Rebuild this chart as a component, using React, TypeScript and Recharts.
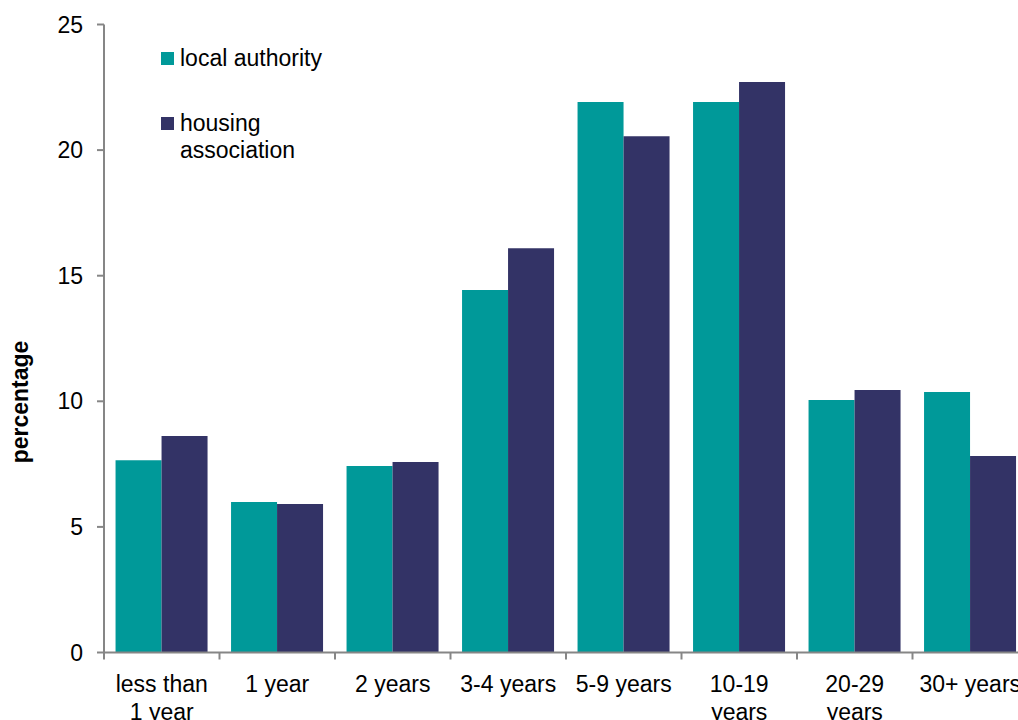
import React from 'react';
import { BarChart, Bar, XAxis, YAxis, Legend, Label } from 'recharts';

const categories = [
  'less than\n1 year',
  '1 year',
  '2 years',
  '3-4 years',
  '5-9 years',
  '10-19\nyears',
  '20-29\nyears',
  '30+ years',
];
const localAuthority = [7.65, 5.99, 7.42, 14.43, 21.91, 21.91, 10.05, 10.37];
const housingAssociation = [8.62, 5.91, 7.58, 16.09, 20.55, 22.71, 10.45, 7.82];
const yTicks = [0, 5, 10, 15, 20, 25];
const seriesNames = ['local authority', 'housing association'];
const seriesColors = ['#009999', '#333366'];

const data = categories.map((c, i) => ({
  name: c,
  la: localAuthority[i],
  ha: housingAssociation[i],
}));

const FONT = '"Liberation Sans", Arial, sans-serif';
const CHART_W = 1040;
const CHART_H = 760;
const PLOT_LEFT = 104;
const PLOT_RIGHT = 1028;
const AXIS_COLOR = '#868686';
const HALF_BAND = (PLOT_RIGHT - PLOT_LEFT) / categories.length / 2;

const XTick = (props: any) => {
  const { x, y, payload, index } = props;
  const lines = String(payload.value).split('\n');
  return (
    <g>
      <line x1={x - HALF_BAND} x2={x - HALF_BAND} y1={y} y2={y + 7} stroke={AXIS_COLOR} strokeWidth={2} />
      {index === categories.length - 1 && (
        <line x1={x + HALF_BAND} x2={x + HALF_BAND} y1={y} y2={y + 7} stroke={AXIS_COLOR} strokeWidth={2} />
      )}
      {lines.map((l, i) => (
        <text key={i} x={x} y={y + 39 + i * 28} textAnchor="middle" fontSize={23} fontFamily={FONT} fill="#000">
          {l}
        </text>
      ))}
    </g>
  );
};

const LegendContent = () => (
  <div style={{ fontFamily: FONT, fontSize: 23, lineHeight: '27px', color: '#000', textAlign: 'left' }}>
    {seriesNames.map((n, i) => (
      <div key={n} style={{ display: 'flex', alignItems: 'flex-start', marginBottom: i === 0 ? 38 : 0 }}>
        <div style={{ width: 13, height: 13, background: seriesColors[i], marginTop: 7, marginRight: 6, flex: 'none' }} />
        <div style={{ width: 150 }}>{n}</div>
      </div>
    ))}
  </div>
);

const YLabel = () => {
  const cx = 28;
  const cy = 402;
  return (
    <text
      x={cx}
      y={cy}
      transform={`rotate(-90, ${cx}, ${cy})`}
      textAnchor="middle"
      fontSize={23}
      fontWeight="bold"
      fontFamily={FONT}
      fill="#000"
    >
      percentage
    </text>
  );
};

export default function App() {
  return (
    <div style={{ position: 'fixed', left: 0, top: 0, width: 1018, height: 720, overflow: 'hidden', background: '#fff' }}>
      <BarChart
        width={CHART_W}
        height={CHART_H}
        data={data}
        margin={{ top: 24.5, right: CHART_W - PLOT_RIGHT, left: 0, bottom: 47.5 }}
        barCategoryGap="10%"
        barGap={0}
      >
        <YAxis
          width={PLOT_LEFT}
          domain={[0, 25]}
          ticks={yTicks}
          interval={0}
          axisLine={{ stroke: AXIS_COLOR, strokeWidth: 2 }}
          tickLine={{ stroke: AXIS_COLOR, strokeWidth: 2 }}
          tickSize={7}
          tickMargin={14}
          tick={{ fontSize: 23, fontFamily: FONT, fill: '#000' }}
        >
          <Label content={<YLabel />} />
        </YAxis>
        <XAxis
          dataKey="name"
          height={60}
          interval={0}
          axisLine={{ stroke: AXIS_COLOR, strokeWidth: 2 }}
          tickLine={false}
          tickSize={0}
          tickMargin={0}
          tick={<XTick />}
        />
        <Legend
          layout="horizontal"
          verticalAlign="middle"
          align="center"
          content={<LegendContent />}
          wrapperStyle={{ position: 'absolute', left: 161, top: 44.6, width: 'auto' }}
        />
        <Bar dataKey="la" name={seriesNames[0]} fill={seriesColors[0]} isAnimationActive={false} />
        <Bar dataKey="ha" name={seriesNames[1]} fill={seriesColors[1]} isAnimationActive={false} />
      </BarChart>
    </div>
  );
}
